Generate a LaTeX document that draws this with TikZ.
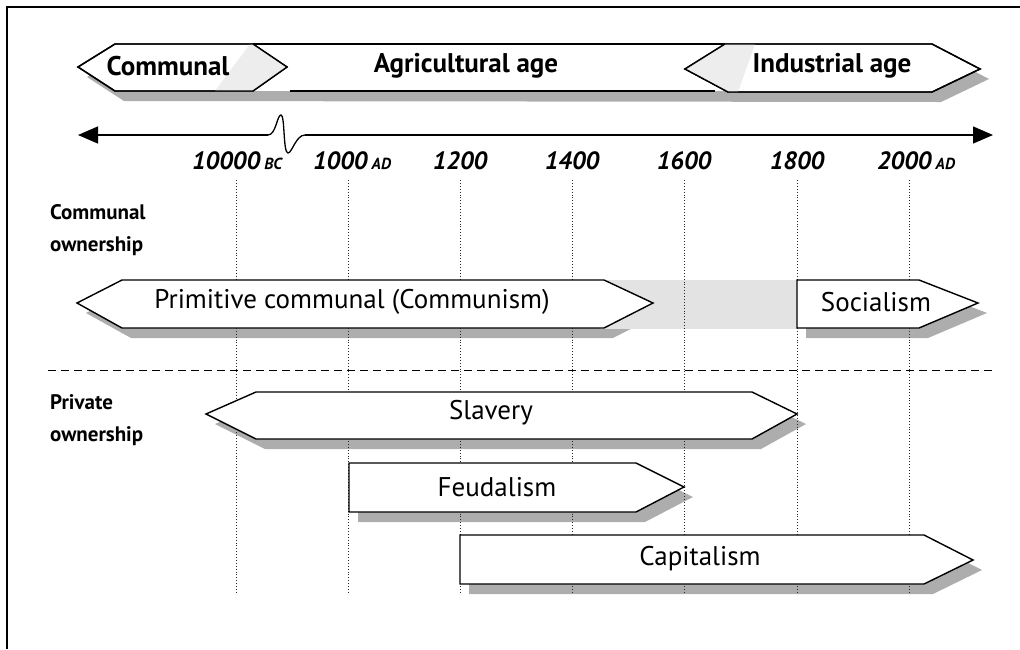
\documentclass[tikz,border=0pt]{standalone}
\usepackage{fontspec}
\setmainfont{PT Sans}
\usetikzlibrary{arrows.meta}
\newcommand\eraabbr{\bfseries\itshape\fontsize{16}{18}\selectfont}
\begin{document}
\begin{tikzpicture}[x=1pt,y=-1pt,
  band/.style={draw=black, line width=1.4pt, fill=white, line join=miter},
  shade/.style={fill=black!32},
  lightshade/.style={fill=black!11},
  faintshade/.style={fill=black!7},
  gridline/.style={dotted, line width=0.9pt, black!85},
  era/.style={font=\bfseries\fontsize{27}{30}\selectfont, inner sep=0pt},
  stage/.style={font=\fontsize{27}{30}\selectfont, inner sep=0pt},
  year/.style={font=\bfseries\itshape\fontsize{25}{28}\selectfont, inner sep=0pt},
  side/.style={font=\bfseries\fontsize{21}{32}\selectfont, align=left, anchor=west, inner sep=0pt}
]
\useasboundingbox (0,0) rectangle (1020,649);

% frame
\draw[line width=1.4pt] (7,649) -- (7,7) -- (1020,7);

% ---------- shadows ----------
\begin{scope}[shift={(9,10)}]
  \fill[shade] (78,67) -- (115,44) -- (932,44) -- (980,69) -- (932,92) -- (115,91) -- cycle;
  \fill[shade] (77,303) -- (122,280) -- (604,280) -- (653,303) -- (604,328) -- (122,328) -- cycle;
  \fill[shade] (797,280) -- (919,280) -- (978,303) -- (919,328) -- (797,328) -- cycle;
  \fill[shade] (206,414) -- (256,392) -- (752,392) -- (797,414) -- (752,439) -- (256,439) -- cycle;
  \fill[shade] (349,463) -- (636,463) -- (684,487) -- (636,512) -- (349,512) -- cycle;
  \fill[shade] (460,535) -- (924,535) -- (973,560) -- (924,584) -- (460,584) -- cycle;
\end{scope}
\fill[lightshade] (600,280) rectangle (797,329);

% ---------- vertical year grid ----------
\foreach \gx/\gn in {236/g1,348/g2,460/g3,572/g4,684/g5,797/g6,909/g7}{
  \coordinate (\gn top) at (\gx,180);
  \coordinate (\gn bot) at (\gx,592);
  \draw[gridline] (\gn top) -- (\gn bot);
}

% ---------- top band: ages ----------
\fill[white] (250,44) rectangle (730,91);
\draw[line width=1.4pt] (253,44) -- (725,44);
\draw[line width=1.4pt] (290,91) -- (715,91);
\draw[band] (78,67) -- (115,44) -- (253,44) -- (287,67) -- (253,91) -- (115,91) -- cycle;
\draw[band] (685,69) -- (725,44) -- (932,44) -- (980,69) -- (932,92) -- (728,92) -- cycle;
% soft shading where the ages overlap
\fill[faintshade] (215,91) -- (250,44) -- (253,44) -- (287,67) -- (253,91) -- cycle;
\fill[faintshade] (685,69) -- (725,44) -- (755,44) -- (738,92) -- (728,92) -- cycle;
\draw[band, fill=none] (78,67) -- (115,44) -- (253,44) -- (287,67) -- (253,91) -- (115,91) -- cycle;
\draw[band, fill=none] (685,69) -- (725,44) -- (932,44) -- (980,69) -- (932,92) -- (728,92) -- cycle;
\node[era] (communal) at (168,66) {Communal};
\node[era] (agri) at (466,66) {Agricultural age};
\node[era] (indus) at (832,66) {Industrial age};

% ---------- time axis with break ----------
\coordinate (axL) at (78,135);
\coordinate (axR) at (993,135);
\coordinate (brkA) at (268,135);
\coordinate (brkB) at (305,135);
\draw[line width=1.3pt, -{Triangle[length=20pt,width=17pt]}] (brkA) -- (axL);
\draw[line width=1.3pt, -{Triangle[length=20pt,width=17pt]}] (brkB) -- (axR);
\draw[line width=1.3pt] (brkA) .. controls (276,135) and (277,115) .. (281,115)
  .. controls (285,115) and (283,153) .. (288,153)
  .. controls (292,153) and (296,135) .. (brkB);

\node[year] (y10000) at (237,161) {10000\,{\eraabbr BC}};
\node[year] (y1000)  at (352,161) {1000\,{\eraabbr AD}};
\node[year] (y1200)  at (460,161) {1200};
\node[year] (y1400)  at (572,161) {1400};
\node[year] (y1600)  at (684,161) {1600};
\node[year] (y1800)  at (797,161) {1800};
\node[year] (y2000)  at (916,161) {2000\,{\eraabbr AD}};

% ---------- ownership groups ----------
\node[side] (commown) at (50,230) {Communal\\ownership};
\node[side] (privown) at (50,420) {Private\\ownership};
\coordinate (sepL) at (48,370);
\coordinate (sepR) at (993,370);
\draw[line width=1pt, dash pattern=on 8pt off 5pt] (sepL) -- (sepR);

% ---------- economic systems ----------
\draw[band] (77,303) -- (122,280) -- (604,280) -- (653,303) -- (604,328) -- (122,328) -- cycle;
\node[stage] (primitive) at (352,302) {Primitive communal (Communism)};

\draw[band] (797,280) -- (919,280) -- (978,303) -- (919,328) -- (797,328) -- cycle;
\node[stage] (socialism) at (876,302) {Socialism};

\draw[band] (206,414) -- (256,392) -- (752,392) -- (797,414) -- (752,439) -- (256,439) -- cycle;
\node[stage] (slavery) at (491,413) {Slavery};

\draw[band] (349,463) -- (636,463) -- (684,487) -- (636,512) -- (349,512) -- cycle;
\node[stage] (feudalism) at (497,487) {Feudalism};

\draw[band] (460,535) -- (924,535) -- (973,560) -- (924,584) -- (460,584) -- cycle;
\node[stage] (capitalism) at (700,559) {Capitalism};
\end{tikzpicture}
\end{document}
